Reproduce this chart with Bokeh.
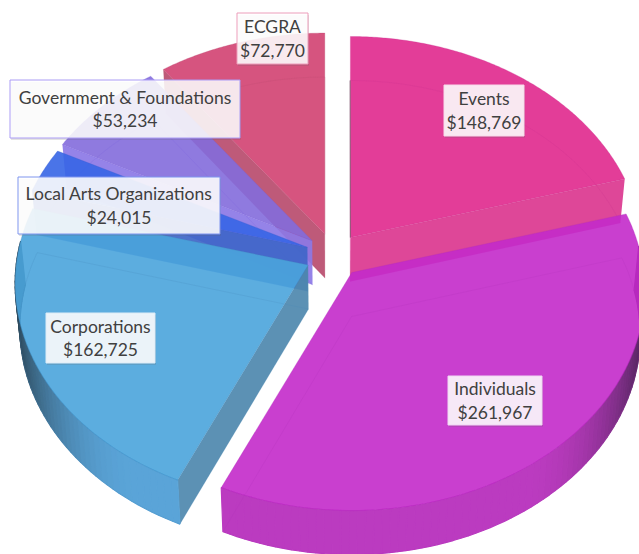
import numpy as np
from bokeh.plotting import figure
from bokeh.models import Range1d
from bokeh.core.properties import value
from bokeh.embed import file_html
from bokeh.resources import INLINE

# ---- data (clockwise from 12 o'clock) ----
categories = ["Events", "Individuals", "Corporations", "Local Arts Organizations",
              "Government & Foundations", "ECGRA"]
amounts = [148769, 261967, 162725, 24015, 53234, 72770]
amount_labels = ["$148,769", "$261,967", "$162,725", "$24,015", "$53,234", "$72,770"]

# ---- styling ----
top_colors = ["#e0288d", "#c32aca", "#4aa4db", "#3665e6", "#836bdc", "#d14171"]
edge_colors = ["#c8308f", "#b030b8", "#4688b8", "#3a5fd0", "#7a5fe0", "#b84a70"]
cut_colors = ["#dc3d92", "#b93bc0", "#4e88ae", "#3f66c8", "#8c78e6", "#b94c6e"]
wall_light = ["#dc3d92", "#bb3bc0", "#5aa4d8", "#4a74e8", "#8f7ae0", "#b94c6e"]
wall_dark = ["#a02a70", "#4a2455", "#2c4759", "#30487a", "#50408a", "#70304a"]
border_colors = ["#f6dbe9", "#efd7f2", "#dcebf6", "#7f95ee", "#ab9cf5", "#ec9dba"]
box_alpha = [0.88, 0.88, 0.88, 0.88, 0.86, 0.88]
# label boxes: left, top, right, bottom in page pixels
boxes = [(443.5, 84.5, 523.5, 135.5), (447.5, 375.5, 541.5, 424.5), (45.5, 312.5, 154.5, 362.5),
         (17.5, 176.5, 219.5, 233.5), (9.5, 79.5, 239.5, 137.5), (236.5, 12.5, 307.5, 63.5)]

# ---- projection of the tilted pie ----
CX, CY = 333.0, 255.0
RX, RY, PERSP = 292.0, 218.0, 0.0843
EX, EY = 28.0, 22.5
DEPTH, BOTTOM_SCALE = 44.0, 0.985


def project(apex, deg, r=1.0, bottom=False):
    t = np.radians(deg)
    x, y = r * np.sin(t), r * np.cos(t)
    w = 1 + PERSP * y
    sx = apex[0] + RX * x / w
    sy = apex[1] - RY * y / w
    if bottom:
        sx = CX + (sx - CX) * BOTTOM_SCALE
        sy = sy + DEPTH
    return sx, sy


p = figure(width=639, height=554, output_backend="svg", toolbar_location=None,
           x_range=Range1d(0, 639), y_range=Range1d(554, 0), min_border=0)
p.axis.visible = False
p.grid.visible = False
p.outline_line_color = None
p.background_fill_color = None

vals = np.array(amounts, dtype=float)
ends = np.cumsum(vals) / vals.sum() * 360
starts = ends - vals / vals.sum() * 360


def mix(c1, c2, s):
    a = np.array([int(c1[i:i + 2], 16) for i in (1, 3, 5)], dtype=float)
    b = np.array([int(c2[i:i + 2], 16) for i in (1, 3, 5)], dtype=float)
    m = a + (b - a) * s
    return "#%02x%02x%02x" % tuple(int(round(v)) for v in m)


def wedge(apex, a0, a1, bottom=False):
    ang = np.linspace(a0, a1, max(int(a1 - a0) * 2, 8))
    pts = [project(apex, d, 1.0, bottom) for d in ang]
    o = project(apex, 0, 0.0, bottom)
    return [o[0]] + [q[0] for q in pts], [o[1]] + [q[1] for q in pts]


def cut_wall(apex, deg, color, alpha):
    o, o2 = project(apex, 0, 0.0), project(apex, 0, 0.0, True)
    e, e2 = project(apex, deg), project(apex, deg, 1.0, True)
    p.patch([o[0], e[0], e2[0], o2[0]], [o[1], e[1], e2[1], o2[1]],
            fill_color=color, fill_alpha=alpha, line_color=None)


order = [5, 4, 3, 2, 0, 1]  # back-to-front drawing order
for i in order:
    a0, a1 = starts[i], ends[i]
    mid = np.radians((a0 + a1) / 2)
    apex = (CX + EX * np.sin(mid), CY - EY * np.cos(mid))
    color = top_colors[i]

    # cut faces turned toward the viewer
    if np.cos(np.radians(a0 - 90)) < 0:
        cut_wall(apex, a0, cut_colors[i], 0.92)
    if np.cos(np.radians(a1 + 90)) < 0:
        cut_wall(apex, a1, cut_colors[i], 0.95)

    # outer rim with shading toward the silhouette
    steps = np.arange(a0, a1, 1.5)
    steps = np.append(steps, a1)
    for d0, d1 in zip(steps[:-1], steps[1:]):
        if np.cos(np.radians((d0 + d1) / 2)) > 0.12:
            continue
        q0, q1 = project(apex, d0), project(apex, d1)
        r0, r1 = project(apex, d0, 1.0, True), project(apex, d1, 1.0, True)
        s = min(max((abs(np.sin(np.radians((d0 + d1) / 2))) - 0.55) / 0.45, 0), 1) ** 2
        c = mix(wall_light[i], wall_dark[i], s)
        p.patch([q0[0], q1[0], r1[0], r0[0]], [q0[1], q1[1], r1[1], r0[1]],
                fill_color=c, line_color=c, line_width=1.2)

    # top face
    tx, ty = wedge(apex, a0, a1)
    p.patch(tx, ty, fill_color=color, fill_alpha=0.9, line_color=edge_colors[i],
            line_alpha=0.35, line_width=0.8)

    # outline of the bottom face, seen faintly through the top
    bx, by = wedge(apex, a0, a1, True)
    p.patch(bx, by, fill_color=None, line_color=edge_colors[i], line_alpha=0.25, line_width=0.8)

    if i == 0:  # dark seam along the first edge of the pie
        o, e = project(apex, 0, 0.0), project(apex, a0, 1.0, True)
        p.line([o[0], e[0]], [o[1], e[1]], line_color="#444444", line_alpha=0.55, line_width=1)

# labels
for i in range(len(categories)):
    l, t, r, b = boxes[i]
    p.quad(left=l + 1, right=r + 1, top=t + 2, bottom=b + 2, fill_color="#666666",
           fill_alpha=0.18, line_color=None)
    p.quad(left=l, right=r, top=t, bottom=b, fill_color="#ffffff", fill_alpha=box_alpha[i],
           line_color=border_colors[i], line_width=1)
    xc = (l + r) / 2
    yc = (t + b) / 2
    p.text([xc], [yc - 12], text=[categories[i]], text_font=value("Lato"),
           text_font_size="17.5px", text_align="center", text_baseline="middle", text_color="#404040")
    p.text([xc], [yc + 11.5], text=[amount_labels[i]], text_font=value("Lato"),
           text_font_size="17.5px", text_align="center", text_baseline="middle", text_color="#404040")

open("out.html", "w").write(file_html(p, INLINE))
